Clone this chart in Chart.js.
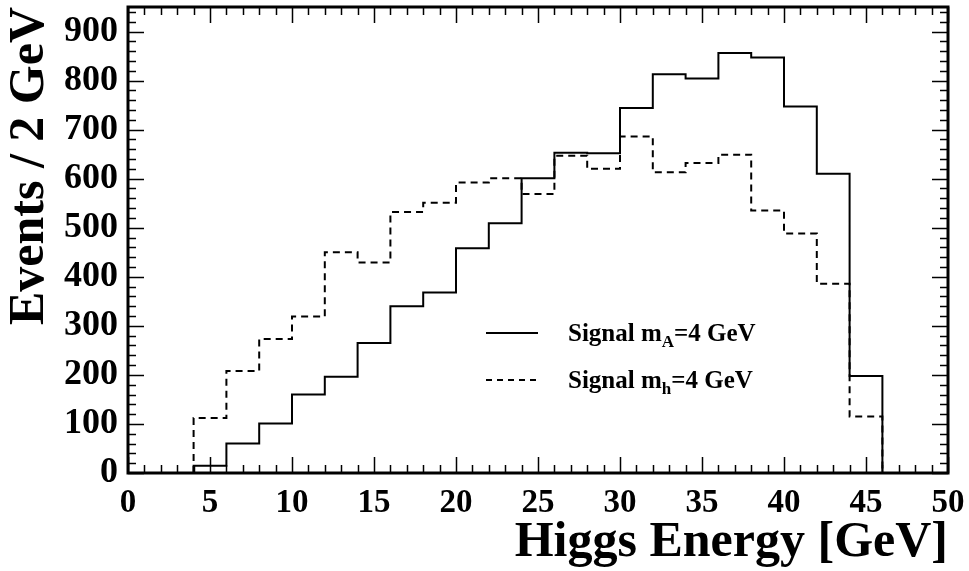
<!DOCTYPE html>
<html>
<head>
<meta charset="utf-8">
<script src="https://cdn.jsdelivr.net/npm/chart.js@4.4.1/dist/chart.umd.min.js"></script>
<style>
html,body{margin:0;padding:0;background:#fff;}
#wrap{width:969px;height:571px;position:relative;}
</style>
</head>
<body>
<div id="wrap"><canvas id="c" width="969" height="571"></canvas></div>
<script>
// Bin low edges (GeV), bin width 2 GeV
const binLow = [4,6,8,10,12,14,16,18,20,22,24,26,28,30,32,34,36,38,40,42,44];
const binWidth = 2;
// Signal m_A = 4 GeV (solid)
const signalA = [15,60,101,160,196,265,340,368,458,509,601,653,652,744,813,804,856,847,747,610,198];
// Signal m_h = 4 GeV (dashed)
const signalH = [112,208,273,319,450,429,532,551,592,601,569,647,620,686,613,632,649,535,488,386,115];
const xTicks = [0,5,10,15,20,25,30,35,40,45,50];
const yTicks = [0,100,200,300,400,500,600,700,800,900];
const legendLabels = [["Signal m","A","=4 GeV"],["Signal m","h","=4 GeV"]];

// points for stepped:'before' : horizontal at previous y up to next x, then vertical
function histPoints(vals){
  const pts = [{x: binLow[0], y: 0}];
  for (let i = 0; i < vals.length; i++) pts.push({x: binLow[i], y: vals[i]});
  pts.push({x: binLow[binLow.length-1] + binWidth, y: vals[vals.length-1]});
  pts.push({x: binLow[binLow.length-1] + binWidth, y: 0});
  return pts;
}

const FONT = "'Liberation Serif','Times New Roman',serif";

const frameTicks = {
  id: 'frameTicks',
  afterDatasetsDraw(chart){
    const ctx = chart.ctx, a = chart.chartArea;
    const xs = chart.scales.x, ys = chart.scales.y;
    ctx.save();
    ctx.strokeStyle = '#000';
    ctx.lineWidth = 1.5;
    ctx.beginPath();
    for (let v = 0; v <= 50; v += 1) {
      const px = Math.round(xs.getPixelForValue(v)) + 0.5;
      const len = (v % 5 === 0) ? 16 : 8;
      ctx.moveTo(px, a.bottom); ctx.lineTo(px, a.bottom - len);
      ctx.moveTo(px, a.top); ctx.lineTo(px, a.top + len);
    }
    for (let v = 0; v <= 940; v += 20) {
      const py = Math.round(ys.getPixelForValue(v)) + 0.5;
      const len = (v % 100 === 0) ? 16 : 8;
      ctx.moveTo(a.left, py); ctx.lineTo(a.left + len, py);
      ctx.moveTo(a.right, py); ctx.lineTo(a.right - len, py);
    }
    ctx.stroke();
    ctx.lineWidth = 3;
    ctx.strokeRect(a.left, a.top, a.right - a.left, a.bottom - a.top);
    ctx.restore();
  }
};

const histLegend = {
  id: 'histLegend',
  afterDraw(chart){
    const ctx = chart.ctx;
    const rows = [{y: 333, dash: []}, {y: 380, dash: [6,5]}];
    ctx.save();
    rows.forEach((r, i) => {
      ctx.strokeStyle = '#000';
      ctx.lineWidth = 2;
      ctx.setLineDash(r.dash);
      ctx.beginPath();
      ctx.moveTo(486, r.y); ctx.lineTo(538, r.y);
      ctx.stroke();
      ctx.setLineDash([]);
      const [t1, sub, t2] = legendLabels[i];
      ctx.fillStyle = '#000';
      ctx.textBaseline = 'alphabetic';
      ctx.font = "bold 25px " + FONT;
      let x = 568;
      const base = r.y + 8;
      ctx.fillText(t1, x, base); x += ctx.measureText(t1).width;
      ctx.font = "bold 17px " + FONT;
      ctx.fillText(sub, x, base + 6); x += ctx.measureText(sub).width;
      ctx.font = "bold 25px " + FONT;
      ctx.fillText(t2, x, base);
    });
    ctx.restore();
  }
};

new Chart(document.getElementById('c'), {
  type: 'line',
  data: {
    datasets: [
      {label: 'Signal mA=4 GeV', data: histPoints(signalA), stepped: 'before', borderColor: '#000', borderWidth: 2, pointRadius: 0, fill: false},
      {label: 'Signal mh=4 GeV', data: histPoints(signalH), stepped: 'before', borderColor: '#000', borderWidth: 2, borderDash: [7,5], pointRadius: 0, fill: false}
    ]
  },
  options: {
    responsive: false,
    animation: false,
    devicePixelRatio: 1,
    layout: {padding: {left: 0, top: 7, right: 21, bottom: 0}},
    plugins: {legend: {display: false}, tooltip: {enabled: false}},
    scales: {
      x: {
        type: 'linear', min: 0, max: 50,
        afterBuildTicks(s){ s.ticks = xTicks.map(v => ({value: v})); },
        afterFit(s){ s.height = 98; s.paddingLeft = 0; s.paddingRight = 0; },
        grid: {display: false, drawTicks: false},
        border: {display: false},
        ticks: {color: '#000', padding: 11, maxRotation: 0, autoSkip: false, font: {family: FONT, size: 33, weight: 'bold'}},
        title: {display: true, text: 'Higgs Energy [GeV]', align: 'end', color: '#000', padding: {top: 0, bottom: -2}, font: {family: FONT, size: 50, weight: 'bold'}}
      },
      y: {
        type: 'linear', min: 0, max: 950,
        afterBuildTicks(s){ s.ticks = yTicks.map(v => ({value: v})); },
        afterFit(s){ s.width = 128; s.paddingTop = 0; s.paddingBottom = 0; },
        grid: {display: false, drawTicks: false},
        border: {display: false},
        ticks: {color: '#000', padding: 10, autoSkip: false, font: {family: FONT, size: 36, weight: 'bold'}},
        title: {display: true, text: 'Events / 2 GeV', align: 'end', color: '#000', padding: {top: 0, bottom: 0}, font: {family: FONT, size: 50, weight: 'bold'}}
      }
    }
  },
  plugins: [frameTicks, histLegend]
});
</script>
</body>
</html>
